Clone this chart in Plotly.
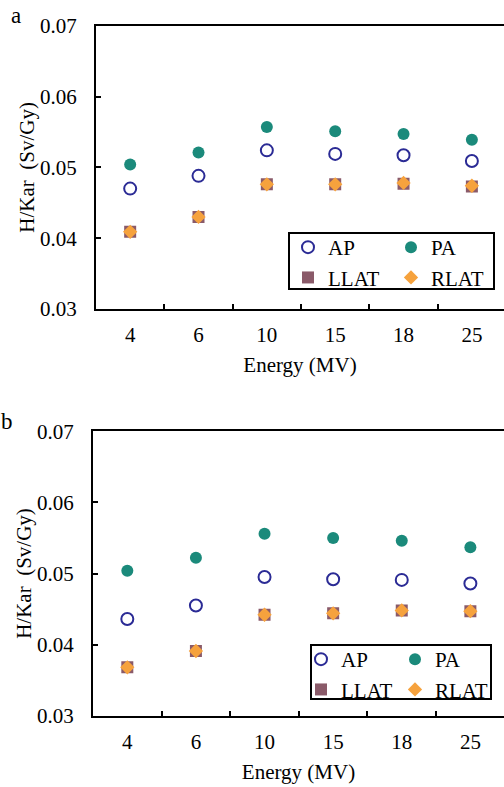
import plotly.graph_objects as go

W, H = 504, 787

energies = ["4", "6", "10", "15", "18", "25"]
y_ticks = [0.03, 0.04, 0.05, 0.06, 0.07]

# Panel a
a_AP = [0.0470, 0.0488, 0.0524, 0.0519, 0.0517, 0.0509]
a_PA = [0.0504, 0.0521, 0.0557, 0.0551, 0.0547, 0.0539]
a_LLAT = [0.0409, 0.0430, 0.0476, 0.0476, 0.0477, 0.0473]
a_RLAT = [0.0409, 0.0430, 0.0476, 0.0476, 0.0478, 0.0474]

# Panel b
b_AP = [0.0436, 0.0455, 0.0495, 0.0492, 0.0491, 0.0486]
b_PA = [0.0504, 0.0522, 0.0556, 0.0550, 0.0546, 0.0537]
b_LLAT = [0.0368, 0.0391, 0.0442, 0.0444, 0.0448, 0.0447]
b_RLAT = [0.0368, 0.0391, 0.0442, 0.0444, 0.0448, 0.0447]

C_AP = "#2b2b95"
C_PA = "#1b8a7b"
C_LLAT = "#8a5a69"
C_RLAT = "#f6a23d"
FONT = "Liberation Serif"


def px(x):
    return x / W


def py(y):
    return (H - y) / H


fig = go.Figure()


def add_panel(xa, ya, AP, PA, LLAT, RLAT, lg1, lg2):
    common = dict(x=energies, mode="markers", xaxis=xa, yaxis=ya)
    fig.add_trace(go.Scatter(y=AP, name="AP", legend=lg1,
                             marker=dict(symbol="circle-open", size=12, color=C_AP,
                                         line=dict(width=2, color=C_AP)), **common))
    fig.add_trace(go.Scatter(y=LLAT, name="LLAT", legend=lg1,
                             marker=dict(symbol="square", size=12, color=C_LLAT), **common))
    fig.add_trace(go.Scatter(y=PA, name="PA", legend=lg2,
                             marker=dict(symbol="circle", size=12, color=C_PA), **common))
    fig.add_trace(go.Scatter(y=RLAT, name="RLAT", legend=lg2,
                             marker=dict(symbol="diamond", size=11, color=C_RLAT), **common))


add_panel("x", "y", a_AP, a_PA, a_LLAT, a_RLAT, "legend", "legend2")
add_panel("x2", "y2", b_AP, b_PA, b_LLAT, b_RLAT, "legend3", "legend4")

axis_font = dict(family=FONT, size=21, color="black")

xcommon = dict(type="category", categoryorder="array", categoryarray=energies,
               showline=True, linecolor="black", linewidth=2, mirror=True,
               ticks="inside", tickson="boundaries", ticklen=5, tickwidth=2, tickcolor="black",
               showgrid=False, zeroline=False, tickfont=axis_font, ticklabelstandoff=6,
               automargin=False,
               title=dict(text="Energy (MV)", font=axis_font, standoff=11))
ycommon = dict(range=[0.03, 0.07], tickvals=y_ticks, tickformat=".2f",
               showline=True, linecolor="black", linewidth=2, mirror=False,
               ticks="inside", ticklen=5, tickwidth=2, tickcolor="black",
               showgrid=False, zeroline=False, tickfont=axis_font, ticklabelstandoff=13,
               automargin=False,
               title=dict(text="H/Kar\u00a0\u00a0(Sv/Gy)", font=axis_font, standoff=0))

fig.update_layout(
    width=W, height=H,
    margin=dict(l=0, r=0, t=0, b=0, pad=0, autoexpand=False),
    paper_bgcolor="white", plot_bgcolor="white",
    font=dict(family=FONT, size=21, color="black"),
    xaxis=dict(domain=[px(96), 1], range=[-0.5, 5.47], anchor="y", **xcommon),
    yaxis=dict(domain=[py(309), py(25.7)], anchor="x", **ycommon),
    xaxis2=dict(domain=[px(93), 1], range=[-0.5, 5.49], anchor="y2", **xcommon),
    yaxis2=dict(domain=[py(715.7), py(431.3)], anchor="x2", **ycommon),
)

leg_common = dict(bgcolor="rgba(0,0,0,0)", borderwidth=0, font=dict(family=FONT, size=21, color="black"),
                  xref="paper", yref="paper", xanchor="left", yanchor="top",
                  tracegroupgap=0, itemclick=False, itemdoubleclick=False)
fig.update_layout(
    legend=dict(x=px(288), y=py(227), **leg_common),
    legend2=dict(x=px(391), y=py(227), **leg_common),
    legend3=dict(x=px(301), y=py(639), **leg_common),
    legend4=dict(x=px(395), y=py(639), **leg_common),
)

# legend frames
fig.add_shape(type="rect", xref="paper", yref="paper",
              x0=px(289), x1=px(494), y0=py(289), y1=py(233),
              line=dict(color="black", width=2), fillcolor="rgba(0,0,0,0)")
fig.add_shape(type="rect", xref="paper", yref="paper",
              x0=px(311), x1=px(491), y0=py(699), y1=py(645),
              line=dict(color="black", width=2), fillcolor="rgba(0,0,0,0)")

# panel labels
fig.add_annotation(text="a", x=px(16), y=py(15), xref="paper", yref="paper",
                   showarrow=False, font=dict(family=FONT, size=23, color="black"),
                   xanchor="center", yanchor="middle")
fig.add_annotation(text="b", x=px(7), y=py(421), xref="paper", yref="paper",
                   showarrow=False, font=dict(family=FONT, size=23, color="black"),
                   xanchor="center", yanchor="middle")

fig.write_html("out.html", config={"displayModeBar": False},
               post_script="document.body.style.margin='0';")
